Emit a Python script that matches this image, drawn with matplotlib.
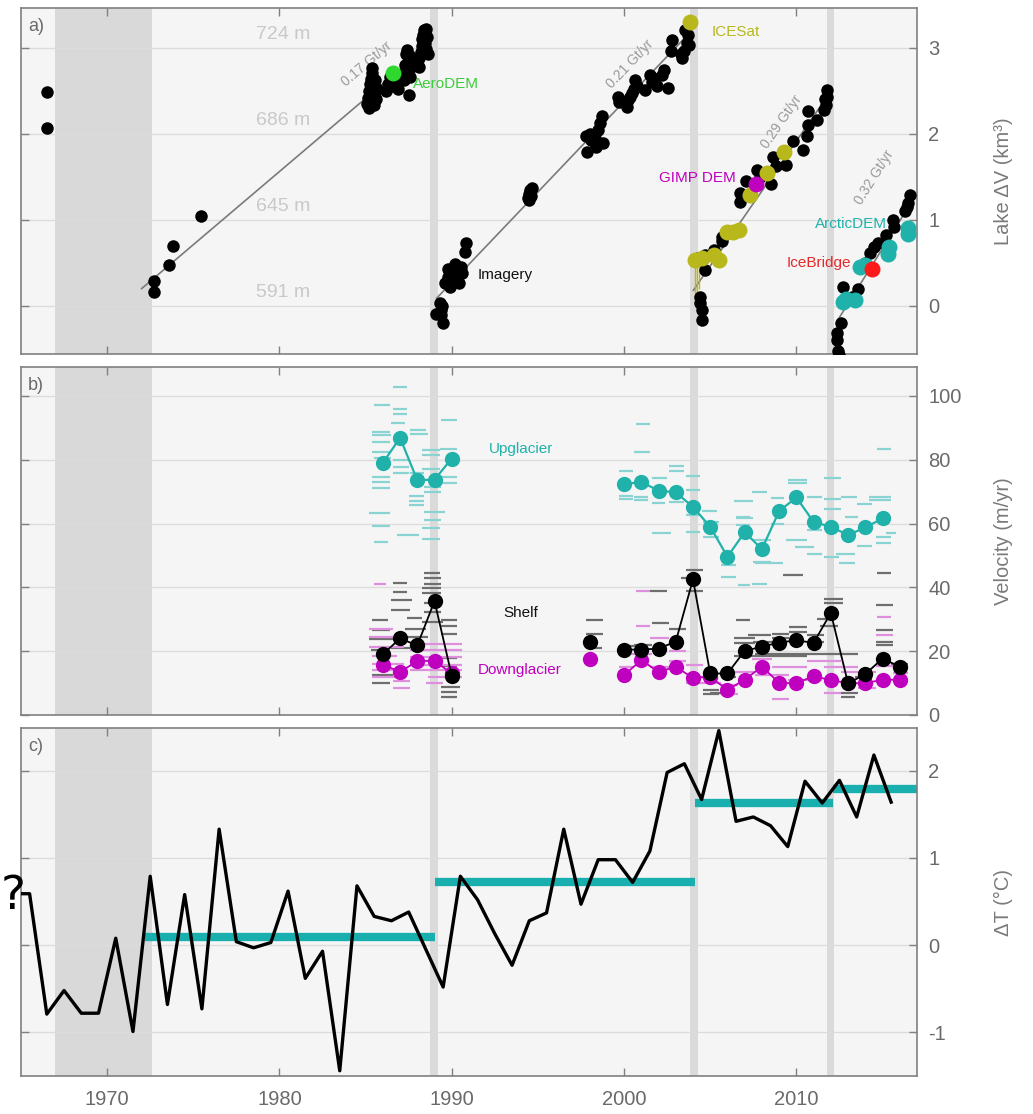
import math
import matplotlib
matplotlib.use("Agg")
import matplotlib.pyplot as plt

plt.rcParams['font.family'] = ['Liberation Sans', 'DejaVu Sans']
plt.rcParams['axes.unicode_minus'] = False

# ---------------- a) lake volume change (km3) ----------------
imagery_year = [1966.5, 1966.5, 1972.7, 1972.7, 1973.6, 1973.8, 1975.45,
                1985.1, 1985.15, 1985.2, 1985.2, 1985.25, 1985.3, 1985.3, 1985.35, 1985.4, 1985.45,
                1985.5, 1985.55, 1985.6, 1985.65, 1985.4, 1986.2, 1986.3, 1986.4, 1986.5, 1986.6,
                1986.8, 1986.9, 1987.2, 1987.25, 1987.3, 1987.35, 1987.4, 1987.45, 1987.5, 1987.55,
                1987.5, 1987.6, 1987.65, 1988.0, 1988.1, 1988.2, 1988.25, 1988.3, 1988.35, 1988.4,
                1988.45, 1988.5, 1988.55, 1988.6, 1988.5, 1988.1,
                1989.1, 1989.3, 1989.35, 1989.4, 1989.5, 1989.45, 1989.6, 1989.8, 1989.8, 1990.0,
                1990.2, 1990.2, 1990.4, 1990.55, 1990.6, 1990.75, 1990.8, 1990.3, 1989.9,
                1994.45, 1994.5, 1994.55, 1994.6, 1994.65, 1994.5,
                1997.8, 1997.85, 1998.0, 1998.1, 1998.3, 1998.5, 1998.6, 1998.7, 1998.8, 1998.4,
                1999.63, 1999.7, 2000.15, 2000.2, 2000.44, 2000.55, 2000.63, 2000.35, 2000.75,
                2001.22, 2001.5, 2001.6, 2001.9, 2002.2, 2002.3, 2002.57, 2001.7,
                2002.76, 2002.7, 2003.35, 2003.45, 2003.64, 2003.7, 2003.75, 2003.55, 2003.3,
                2004.4, 2004.4, 2004.5, 2004.5, 2004.7, 2004.7, 2005.67, 2005.7, 2006.73, 2006.75,
                2007.7, 2008.5, 2008.67, 2009.4, 2009.8, 2010.4, 2010.6, 2010.7, 2010.7, 2011.2,
                2011.58, 2011.65, 2011.8, 2011.75, 2011.7, 2007.1, 2007.9, 2008.8, 2005.2, 2004.3,
                2012.34, 2012.35, 2012.4, 2012.45, 2012.6, 2012.7, 2012.9, 2013.58, 2013.7, 2014.28,
                2014.76, 2015.2, 2015.6, 2015.65, 2016.3, 2016.5, 2016.6, 2016.4, 2013.2, 2014.0, 2014.5]
imagery_dv = [2.49, 2.07, 0.29, 0.16, 0.48, 0.69, 1.04,
              2.35, 2.42, 2.30, 2.50, 2.58, 2.64, 2.38, 2.70, 2.46, 2.55,
              2.33, 2.62, 2.40, 2.52, 2.76, 2.50, 2.58, 2.66, 2.55, 2.60,
              2.65, 2.52, 2.62, 2.70, 2.80, 2.92, 2.97, 2.75, 2.86, 2.66,
              2.45, 2.90, 2.78, 2.80, 2.88, 2.95, 3.02, 3.10, 3.15, 3.20,
              3.05, 2.98, 3.12, 2.92, 3.22, 2.78,
              -0.09, 0.03, -0.05, -0.11, -0.20, 0.00, 0.26, 0.34, 0.43, 0.30,
              0.38, 0.49, 0.26, 0.45, 0.38, 0.63, 0.73, 0.42, 0.22,
              1.25, 1.30, 1.35, 1.28, 1.37, 1.23,
              1.97, 1.79, 2.00, 1.93, 1.95, 2.04, 2.12, 2.20, 1.89, 1.85,
              2.43, 2.37, 2.31, 2.39, 2.47, 2.52, 2.62, 2.43, 2.55,
              2.51, 2.68, 2.60, 2.55, 2.68, 2.74, 2.53, 2.65,
              3.09, 2.96, 2.88, 2.96, 3.05, 3.15, 3.03, 3.21, 2.92,
              0.10, 0.03, -0.05, -0.17, 0.59, 0.42, 0.80, 0.75, 1.31, 1.21,
              1.58, 1.42, 1.73, 1.64, 1.91, 1.81, 1.97, 2.26, 2.10, 2.16,
              2.28, 2.40, 2.51, 2.43, 2.33, 1.45, 1.50, 1.62, 0.65, 0.55,
              -0.32, -0.40, -0.52, -0.57, -0.20, 0.22, 0.07, 0.20, 0.45, 0.61,
              0.73, 0.82, 1.00, 0.92, 1.10, 1.20, 1.29, 1.15, 0.10, 0.50, 0.68]

icesat_year = [2003.83, 2004.1, 2004.5, 2005.2, 2005.5, 2005.97, 2006.35, 2006.65, 2007.3, 2008.3, 2009.3]
icesat_dv = [3.30, 0.53, 0.55, 0.59, 0.53, 0.86, 0.86, 0.88, 1.29, 1.54, 1.79]
icesat_err_year = [2004.12, 2004.22, 2004.32]
icesat_err_lo = [0.05, 0.08, 0.20]
icesat_err_hi = [0.53, 0.55, 0.50]
aerodem_year, aerodem_dv = [1986.6], [2.70]
gimp_year, gimp_dv = [2007.66], [1.42]
arcticdem_year = [2012.7, 2012.9, 2013.4, 2013.7, 2014.0, 2015.3, 2015.35, 2016.5, 2016.5]
arcticdem_dv = [0.05, 0.08, 0.07, 0.45, 0.47, 0.60, 0.68, 0.84, 0.90]
icebridge_year, icebridge_dv = [2014.37], [0.43]

# fitted drainage rates
rate_text = ['0.17 Gt/yr', '0.21 Gt/yr', '0.29 Gt/yr', '0.32 Gt/yr']
rate_value = [0.17, 0.21, 0.29, 0.32]
rate_start_year = [1972.0, 1989.13, 2004.02, 2012.45]
rate_start_dv = [0.20, 0.09, 0.18, -0.15]
rate_end_year = [1986.5, 2003.5, 2011.6, 2016.6]
rate_label_year = [1985.06, 2000.35, 2009.15, 2014.5]
rate_label_dv = [2.81, 2.81, 2.14, 1.49]

elev_text = ['724 m', '686 m', '645 m', '591 m']
elev_dv = [3.15, 2.15, 1.15, 0.15]

# ---------------- b) velocity (m/yr) ----------------
vel_year_early = [1986, 1987, 1988, 1989, 1990]
up_early = [79.0, 86.9, 73.6, 73.8, 80.4]
shelf_early = [19.0, 24.0, 21.8, 35.7, 12.3]
down_early = [15.8, 13.5, 16.9, 17.0, 13.0]

vel_year_mid = [1998]
shelf_mid = [22.9]
down_mid = [17.4]

vel_year_late = [2000, 2001, 2002, 2003, 2004, 2005, 2006, 2007, 2008,
                 2009, 2010, 2011, 2012, 2013, 2014, 2015, 2016]
up_late = [72.3, 73.1, 70.3, 69.8, 65.2, 59.0, 49.6, 57.3, 52.0,
           63.9, 68.2, 60.5, 59.0, 56.4, 58.8, 61.6, None]
shelf_late = [20.5, 20.5, 20.8, 23.0, 42.5, 13.0, 13.0, 20.1, 21.4,
              22.7, 23.4, 22.6, 32.0, 9.9, 12.8, 17.7, 15.1]
down_late = [12.5, 17.2, 13.5, 15.1, 11.6, 12.0, 7.8, 11.1, 15.1,
             10.1, 9.9, 12.2, 10.9, 10.0, 9.9, 11.1, 11.0]

# individual velocity pairs: (start year, end year, m/yr)
up_pairs = [(1985.5, 1986.4, 97.3), (1986.6, 1987.4, 102.8), (1986.6, 1987.4, 95.8), (1986.6, 1987.4, 94.5),
            (1986.5, 1987.3, 91.6), (1985.4, 1986.4, 88.7), (1985.4, 1986.5, 87.7), (1985.4, 1986.4, 85.5),
            (1987.6, 1988.5, 89.3), (1987.6, 1988.6, 88.2), (1988.3, 1989.3, 83.0), (1988.3, 1989.3, 81.4),
            (1989.3, 1990.3, 83.5), (1985.4, 1986.5, 82.5), (1985.5, 1986.5, 80.5), (1986.6, 1987.5, 80.0),
            (1985.4, 1986.4, 74.6), (1985.4, 1986.4, 73.1), (1985.4, 1986.4, 71.3), (1986.6, 1987.5, 77.8),
            (1986.6, 1987.5, 75.7), (1987.5, 1988.4, 68.6), (1987.5, 1988.4, 67.1), (1987.5, 1988.4, 65.8),
            (1988.4, 1989.4, 71.5), (1988.4, 1989.4, 69.9), (1989.4, 1990.3, 72.6), (1989.4, 1990.3, 74.5),
            (1988.4, 1989.6, 63.7), (1988.4, 1989.4, 61.1), (1988.3, 1989.3, 58.5), (1988.3, 1989.3, 55.3),
            (1985.2, 1986.4, 63.2), (1985.4, 1986.4, 59.2), (1985.5, 1986.3, 54.3), (1986.8, 1988.1, 56.4),
            (1989.4, 1990.3, 92.6), (1987.6, 1988.4, 76.0), (1988.3, 1989.3, 77.0),
            (2000.7, 2001.5, 91.1), (2000.6, 2001.5, 82.3), (1999.7, 2000.5, 76.4), (1999.7, 2000.5, 68.7),
            (1999.7, 2000.5, 67.6), (2000.6, 2001.4, 68.4), (2000.6, 2001.4, 67.3), (2001.6, 2002.5, 74.4),
            (2001.6, 2002.4, 66.3), (2002.6, 2003.5, 78.0), (2002.6, 2003.5, 76.5), (2001.6, 2002.7, 56.9),
            (2002.6, 2003.5, 66.8), (2003.6, 2004.4, 74.9), (2003.6, 2004.4, 70.5), (2003.6, 2004.4, 62.6),
            (2003.6, 2004.4, 57.4), (2004.6, 2005.5, 60.5), (2004.6, 2005.5, 55.8), (2005.6, 2006.5, 43.3),
            (2006.5, 2007.3, 62.1), (2006.5, 2007.3, 59.5), (2006.6, 2007.3, 40.7), (2005.6, 2006.5, 47.0),
            (2006.4, 2007.5, 67.1), (2006.5, 2007.5, 61.6), (2007.5, 2008.5, 48.0), (2007.6, 2009.2, 47.5),
            (2008.5, 2009.3, 67.9), (2009.5, 2010.6, 73.6), (2009.5, 2010.6, 72.6), (2009.4, 2010.6, 54.8),
            (2009.9, 2011.0, 52.7), (2010.6, 2011.5, 50.6), (2010.6, 2011.5, 68.4), (2011.6, 2012.6, 74.4),
            (2011.6, 2012.6, 67.6), (2011.6, 2012.6, 64.7), (2011.6, 2012.5, 49.5), (2012.3, 2013.4, 50.4),
            (2012.5, 2013.4, 47.5), (2012.6, 2013.5, 68.4), (2013.5, 2014.4, 66.0), (2014.2, 2015.5, 68.4),
            (2014.2, 2015.5, 67.3), (2014.6, 2015.5, 55.8), (2014.6, 2015.5, 53.9), (2014.7, 2015.5, 83.5),
            (2013.5, 2014.4, 53.0), (2010.6, 2011.5, 58.0), (2007.5, 2008.5, 55.0), (2008.5, 2009.3, 60.0),
            (2015.2, 2015.8, 57.0), (2012.8, 2013.6, 62.0), (2004.5, 2005.4, 64.0), (2007.4, 2008.3, 70.0),
            (2007.4, 2008.3, 41.0)]
shelf_pairs = [(1988.4, 1989.3, 44.4), (1988.4, 1989.4, 42.8), (1988.4, 1989.4, 41.2), (1986.6, 1987.4, 41.4),
               (1986.6, 1987.4, 38.6), (1986.5, 1987.7, 36.0), (1986.5, 1987.6, 32.9), (1988.3, 1989.4, 39.7),
               (1988.3, 1989.4, 38.1), (1985.4, 1986.3, 29.7), (1985.4, 1986.4, 26.6), (1987.4, 1988.3, 30.3),
               (1989.4, 1990.3, 29.7), (1989.4, 1990.3, 27.8), (1989.4, 1990.3, 25.5), (1985.2, 1986.8, 23.7),
               (1987.3, 1988.5, 27.1), (1989.4, 1990.3, 7.2), (1989.4, 1990.3, 5.7), (1989.4, 1990.5, 8.8),
               (1985.4, 1986.4, 9.9), (1985.4, 1986.6, 12.5), (1988.4, 1989.4, 32.3), (1987.4, 1988.6, 24.5),
               (1988.3, 1989.5, 29.0), (1986.5, 1987.6, 21.0), (1988.4, 1989.4, 35.0), (1989.4, 1990.3, 18.0),
               (1989.4, 1990.3, 15.5), (1985.3, 1986.3, 20.5),
               (1997.8, 1998.8, 29.7), (1997.8, 1998.8, 25.5), (1997.9, 1998.7, 21.0), (2001.5, 2002.5, 38.9),
               (2001.6, 2002.6, 28.9), (2002.6, 2003.6, 26.8), (2003.6, 2004.6, 45.6), (2003.6, 2004.6, 38.9),
               (2003.3, 2004.0, 43.0), (2006.5, 2007.3, 29.7), (2004.6, 2005.5, 7.8), (2004.6, 2005.5, 6.5),
               (2000.6, 2001.6, 22.0), (1999.7, 2001.0, 21.5), (2009.2, 2010.4, 43.8), (2014.7, 2015.5, 44.5),
               (2011.6, 2012.7, 36.2), (2011.6, 2012.7, 35.0), (2011.2, 2012.2, 30.0), (2011.4, 2012.4, 28.0),
               (2014.6, 2015.6, 34.4), (2014.6, 2015.6, 26.6), (2014.6, 2015.6, 21.9), (2014.6, 2015.6, 22.8),
               (2006.4, 2007.6, 24.0), (2006.4, 2007.6, 22.5), (2007.2, 2008.5, 25.0), (2007.5, 2008.6, 23.0),
               (2008.6, 2009.6, 25.5), (2008.6, 2009.6, 24.0), (2009.6, 2010.6, 27.5), (2009.6, 2010.6, 26.0),
               (2010.6, 2011.6, 25.0), (2010.6, 2011.6, 23.0), (2006.4, 2010.6, 18.5), (2007.6, 2013.6, 19.0),
               (2012.6, 2013.4, 5.7), (2012.6, 2013.6, 7.0), (2013.4, 2014.3, 12.0), (2015.5, 2016.5, 16.0),
               (2005.6, 2006.5, 12.0), (2005.0, 2006.0, 7.0)]
down_pairs = [(1985.5, 1986.2, 40.9), (1985.2, 1986.6, 27.1), (1985.2, 1986.6, 24.5), (1985.2, 1987.2, 21.3),
              (1985.4, 1987.2, 16.1), (1985.4, 1987.2, 14.0), (1985.4, 1987.2, 11.9), (1986.6, 1987.6, 8.3),
              (1987.6, 1990.6, 22.4), (1987.6, 1990.6, 20.3), (1987.6, 1990.6, 18.2), (1987.6, 1990.6, 15.6),
              (1987.6, 1990.6, 14.0), (1988.6, 1990.6, 12.0), (1985.4, 1986.8, 18.5), (1986.6, 1987.6, 10.5),
              (1988.5, 1989.5, 10.0),
              (2000.7, 2001.5, 38.8), (2000.7, 2001.5, 27.9), (2003.6, 2004.6, 15.6), (2001.5, 2002.6, 24.0),
              (2002.6, 2003.6, 20.0), (2002.6, 2003.6, 17.0), (2000.4, 2001.6, 19.0), (1999.7, 2000.6, 15.0),
              (2001.5, 2002.6, 15.0), (2003.6, 2004.8, 12.0), (2004.6, 2005.6, 10.0), (2005.6, 2006.6, 9.5),
              (2006.4, 2007.6, 13.5), (2007.4, 2008.6, 17.5), (2007.6, 2009.6, 12.5), (2008.6, 2010.6, 15.0),
              (2009.5, 2011.5, 11.0), (2010.6, 2012.6, 17.0), (2011.6, 2013.6, 15.0), (2012.6, 2014.6, 13.5),
              (2014.7, 2015.5, 30.8), (2014.6, 2015.6, 25.0), (2014.6, 2015.6, 15.5), (2013.6, 2014.6, 8.5),
              (2003.6, 2004.6, 10.0), (2011.6, 2012.6, 7.0), (2008.6, 2009.6, 5.0), (2005.6, 2006.6, 6.5),
              (2015.6, 2016.5, 13.0)]

# ---------------- c) temperature anomaly (C) ----------------
temp_year = [1964.5, 1965.5, 1966.5, 1967.5, 1968.5, 1969.5, 1970.5, 1971.5, 1972.5, 1973.5,
             1974.5, 1975.5, 1976.5, 1977.5, 1978.5, 1979.5, 1980.5, 1981.5, 1982.5, 1983.5,
             1984.5, 1985.5, 1986.5, 1987.5, 1988.5, 1989.5, 1990.5, 1991.5, 1992.5, 1993.5,
             1994.5, 1995.5, 1996.5, 1997.5, 1998.5, 1999.5, 2000.5, 2001.5, 2002.5, 2003.5,
             2004.5, 2005.5, 2006.5, 2007.5, 2008.5, 2009.5, 2010.5, 2011.5, 2012.5, 2013.5,
             2014.5, 2015.5]
temp_anom = [0.59, 0.59, -0.79, -0.52, -0.78, -0.78, 0.08, -0.99, 0.79, -0.68,
             0.58, -0.73, 1.33, 0.04, -0.03, 0.03, 0.62, -0.38, -0.07, -1.44,
             0.68, 0.33, 0.28, 0.38, -0.05, -0.48, 0.79, 0.52, 0.13, -0.23,
             0.28, 0.37, 1.33, 0.47, 0.98, 0.98, 0.72, 1.08, 1.98, 2.08,
             1.67, 2.46, 1.42, 1.47, 1.37, 1.13, 1.88, 1.63, 1.89, 1.47,
             2.18, 1.64]
period_start = [1972.2, 1989.0, 2004.1, 2012.15]
period_end = [1989.0, 2004.1, 2012.15, 2017.0]
period_mean = [0.09, 0.73, 1.63, 1.79]

# shaded intervals: data gap and drainage events
gap_span = (1967.0, 1972.6)
event_spans = [(1988.75, 1989.2), (2003.8, 2004.3), (2011.75, 2012.2)]

TEAL = '#20b2aa'
MAGENTA = '#bf00bf'
OLIVE = '#b8b81c'
TICK_GREY = '#6a6a6a'

fig = plt.figure(figsize=(10.33, 11.14), dpi=100)
ax_a = fig.add_axes([0.0203, 0.6822, 0.8674, 0.3106])
ax_b = fig.add_axes([0.0203, 0.3582, 0.8674, 0.3124])
ax_c = fig.add_axes([0.0203, 0.0341, 0.8674, 0.3124])


def style_axis(ax, ylim, yticks, ylabel, tag, show_x):
    ax.set_facecolor('#f5f5f5')
    ax.set_xlim(1965, 2017)
    ax.set_ylim(*ylim)
    ax.set_xticks([1970, 1980, 1990, 2000, 2010])
    ax.set_yticks(yticks)
    ax.set_axisbelow(True)
    ax.grid(axis='y', color='#dcdcdc', lw=1.0)
    ax.grid(axis='x', visible=False)
    ax.axvspan(*gap_span, color='#d9d9d9', lw=0, zorder=0.3)
    for s0, s1 in event_spans:
        ax.axvspan(s0, s1, color='#dadada', lw=0, zorder=0.3)
    for sp in ax.spines.values():
        sp.set_color('#808080')
        sp.set_linewidth(1.2)
    ax.tick_params(axis='both', direction='in', length=6, width=1, color='#808080',
                   labelcolor=TICK_GREY, labelsize=14.5)
    ax.tick_params(axis='y', left=True, right=True, labelleft=False, labelright=True, pad=8)
    ax.tick_params(axis='x', top=True, bottom=True, labelbottom=show_x, pad=10)
    ax.text(1.097, 0.5, ylabel, transform=ax.transAxes, rotation=90, ha='center', va='center',
            fontsize=14.5, color='#7a7a7a')
    ax.text(0.008, 0.972, tag, transform=ax.transAxes, ha='left', va='top', fontsize=13, color='#6a6a6a')


style_axis(ax_a, (-0.56, 3.46), [0, 1, 2, 3], 'Lake \u0394V (km\u00b3)', 'a)', False)
style_axis(ax_b, (0, 109.1), [0, 20, 40, 60, 80, 100], 'Velocity (m/yr)', 'b)', False)
style_axis(ax_c, (-1.5, 2.49), [-1, 0, 1, 2], '\u0394T (\u00b0C)', 'c)', True)

# ---- panel a ----
for txt, v in zip(elev_text, elev_dv):
    ax_a.text(1980.2, v, txt, ha='center', va='center', fontsize=14, color='#c9c9c9', zorder=1)

for i in range(len(rate_text)):
    x0, y0, x1 = rate_start_year[i], rate_start_dv[i], rate_end_year[i]
    y1 = y0 + rate_value[i] * (x1 - x0)
    ax_a.plot([x0, x1], [y0, y1], color='#7a7a7a', lw=1.2, zorder=2)
    p0 = ax_a.transData.transform((x0, y0))
    p1 = ax_a.transData.transform((x1, y1))
    ang = math.degrees(math.atan2(p1[1] - p0[1], p1[0] - p0[0]))
    ax_a.text(rate_label_year[i], rate_label_dv[i], rate_text[i], rotation=ang, rotation_mode='anchor',
              ha='center', va='center', fontsize=10, color='#9a9a9a', zorder=2)

ax_a.vlines(icesat_err_year, icesat_err_lo, icesat_err_hi, color=OLIVE, lw=1.0, zorder=3)
ax_a.plot(imagery_year, imagery_dv, 'o', color='black', ms=9, mew=0, zorder=3)
ax_a.plot(icesat_year, icesat_dv, 'o', color=OLIVE, ms=11.5, mew=0, zorder=4)
ax_a.plot(aerodem_year, aerodem_dv, 'o', color='#2fd82f', ms=11.5, mew=0, zorder=4)
ax_a.plot(gimp_year, gimp_dv, 'o', color=MAGENTA, ms=11.5, mew=0, zorder=5)
ax_a.plot(arcticdem_year, arcticdem_dv, 'o', color=TEAL, ms=11.5, mew=0, zorder=4)
ax_a.plot(icebridge_year, icebridge_dv, 'o', color='#ff1a1a', ms=11.5, mew=0, zorder=5)

ax_a.text(1987.75, 2.58, 'AeroDEM', color='#3ccc3c', fontsize=11, ha='left', va='center')
ax_a.text(1991.52, 0.355, 'Imagery', color='#111111', fontsize=11, ha='left', va='center')
ax_a.text(2005.1, 3.18, 'ICESat', color=OLIVE, fontsize=11, ha='left', va='center')
ax_a.text(2006.5, 1.48, 'GIMP DEM', color=MAGENTA, fontsize=11, ha='right', va='center')
ax_a.text(2011.08, 0.95, 'ArcticDEM', color=TEAL, fontsize=11, ha='left', va='center')
ax_a.text(2013.15, 0.50, 'IceBridge', color='#e82828', fontsize=11, ha='right', va='center')

# ---- panel b ----
for pairs, col in ((up_pairs, '#8ad3d3'), (shelf_pairs, '#6e6e6e'), (down_pairs, '#de90de')):
    ax_b.hlines([p[2] for p in pairs], [p[0] for p in pairs], [p[1] for p in pairs],
                color=col, lw=1.6, zorder=2)

up_late_x = [y for y, v in zip(vel_year_late, up_late) if v is not None]
up_late_v = [v for v in up_late if v is not None]

ax_b.plot(vel_year_early, down_early, '-o', color=MAGENTA, ms=11, mew=0, lw=1.3, zorder=3)
ax_b.plot(vel_year_mid, down_mid, 'o', color=MAGENTA, ms=11, mew=0, zorder=3)
ax_b.plot(vel_year_late, down_late, '-o', color=MAGENTA, ms=11, mew=0, lw=1.3, zorder=3)
ax_b.plot(vel_year_early, shelf_early, '-o', color='black', ms=11, mew=0, lw=1.3, zorder=4)
ax_b.plot(vel_year_mid, shelf_mid, 'o', color='black', ms=11, mew=0, zorder=4)
ax_b.plot(vel_year_late, shelf_late, '-o', color='black', ms=11, mew=0, lw=1.3, zorder=4)
ax_b.plot(vel_year_early, up_early, '-o', color=TEAL, ms=11, mew=0, lw=1.6, zorder=4)
ax_b.plot(up_late_x, up_late_v, '-o', color=TEAL, ms=11, mew=0, lw=1.6, zorder=4)

ax_b.text(1992.16, 83.5, 'Upglacier', color=TEAL, fontsize=11, ha='left', va='center')
ax_b.text(1992.97, 32.1, 'Shelf', color='#111111', fontsize=11, ha='left', va='center')
ax_b.text(1991.52, 14.0, 'Downglacier', color=MAGENTA, fontsize=11, ha='left', va='center')

# ---- panel c ----
ax_c.hlines(period_mean, period_start, period_end, color='#1aafaf', lw=6, zorder=2)
ax_c.plot(temp_year, temp_anom, color='black', lw=2.4, zorder=3)

fig.text(0.0005, 0.195, '?', fontsize=34, color='black', ha='left', va='center', family='DejaVu Sans')

fig.savefig('out.png', dpi=100)
